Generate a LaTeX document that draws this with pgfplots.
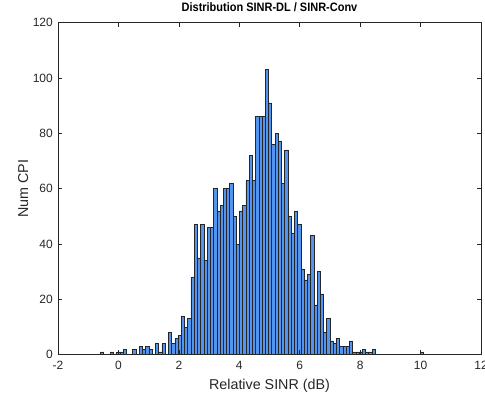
\documentclass[border=0pt]{standalone}
\usepackage{pgfplots}
\pgfplotsset{compat=1.18}
\usepackage{pgfplotstable}
\usepackage{fontspec}
\setmainfont{Liberation Sans}
\newfontfamily\titlefont[FakeStretch=0.9]{Liberation Sans}
\definecolor{barblue}{RGB}{83,148,238}
\definecolor{axgray}{RGB}{38,38,38}
\pgfplotstableread{
x y
-0.595 1
-0.488 0
-0.381 0
-0.274 1
-0.167 0
-0.060 1
0.047 1
0.154 2
0.261 0
0.368 0
0.475 2
0.582 0
0.689 3
0.796 2
0.903 3
1.010 2
1.117 0
1.224 4
1.331 1
1.438 4
1.545 0
1.652 8
1.759 4
1.866 6
1.973 7
2.080 14
2.187 10
2.294 13
2.401 28
2.508 47
2.615 35
2.722 47
2.829 34
2.936 46
3.043 46
3.150 60
3.257 52
3.364 54
3.471 60
3.578 60
3.685 62
3.792 50
3.899 40
4.006 52
4.113 54
4.220 63
4.327 72
4.434 63
4.541 86
4.648 86
4.755 86
4.862 103
4.969 91
5.076 76
5.183 80
5.290 77
5.397 62
5.504 74
5.611 50
5.718 44
5.825 52
5.932 47
6.039 31
6.146 27
6.253 29
6.360 43
6.467 18
6.574 30
6.681 22
6.788 8
6.895 13
7.002 5
7.109 4
7.216 6
7.323 3
7.430 3
7.537 3
7.644 5
7.751 1
7.858 1
7.965 1
8.072 2
8.179 1
8.286 1
8.393 2
8.500 0
8.607 0
8.714 0
8.821 0
8.928 0
9.035 0
9.142 0
9.249 0
9.356 0
9.463 0
9.570 0
9.677 0
9.784 0
9.891 0
9.998 1
10.105 1
}\histdata
\begin{document}
\begin{tikzpicture}
\begin{axis}[
  scale only axis, width=423pt, height=332pt,
  at={(0,0)}, anchor=south west,
  xmin=-2, xmax=12, ymin=0, ymax=120,
  xtick={-2,0,2,4,6,8,10,12}, ytick={0,20,40,60,80,100,120},
  tick align=inside, major tick length=4.2pt,
  axis line style={axgray, line width=0.5pt},
  every tick/.style={axgray, line width=0.5pt},
  axis on top,
  /pgf/number format/assume math mode=true,
  ticklabel style={font=\fontsize{12}{14}\selectfont, text=axgray},
  xticklabel style={anchor=north, inner sep=0pt, yshift=-6.5pt},
  yticklabel style={anchor=east, inner sep=0pt, xshift=-5pt},
  xlabel={Relative SINR (dB)}, ylabel={Num CPI},
  xlabel style={font=\fontsize{14.3}{16}\selectfont, text=axgray, at={(axis description cs:0.5,0)}, anchor=base, inner sep=0pt, yshift=-35pt},
  ylabel style={font=\fontsize{14.3}{16}\selectfont, text=axgray, at={(axis description cs:-0.0709,0.5)}, anchor=base, inner sep=0pt},
  title={Distribution SINR-DL / SINR-Conv},
  title style={font=\titlefont\bfseries\fontsize{12.2}{14}\selectfont, text=black, at={(axis description cs:0.5,1)}, anchor=base, inner sep=0pt, yshift=5.5pt},
]
\addplot[ybar interval, fill=barblue, draw=black!85, line width=0.6pt] table[x=x, y=y] {\histdata};
\end{axis}
\pgfresetboundingbox
\path[use as bounding box] (-58pt,-41.3pt) rectangle (427pt,354.7pt);
\end{tikzpicture}
\end{document}
